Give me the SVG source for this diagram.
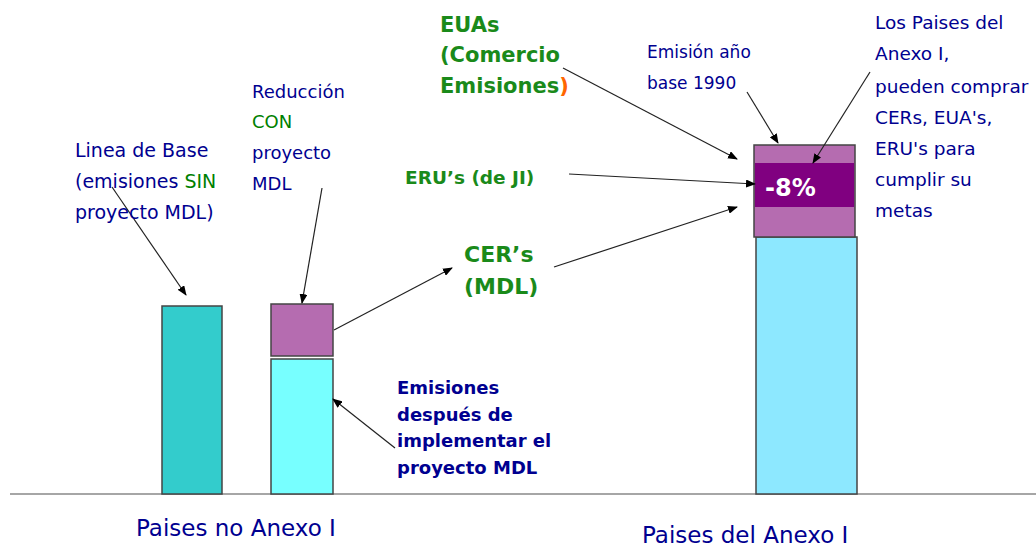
<svg xmlns="http://www.w3.org/2000/svg" width="1036" height="550" viewBox="0 0 1036 550">
<defs>
<marker id="ah" markerWidth="10" markerHeight="8" refX="9" refY="4" orient="auto" markerUnits="userSpaceOnUse">
<path d="M0,0 L10,4 L0,8 Z" fill="#000"/>
</marker>
<style>
.c{font-family:"DejaVu Sans","Liberation Sans",sans-serif;font-size:17px;fill:#000090}
.b{font-family:"DejaVu Sans","Liberation Sans",sans-serif;font-weight:bold;fill:#000090;font-size:18px}
.g{fill:#008000}
.gb{font-family:"DejaVu Sans","Liberation Sans",sans-serif;font-weight:bold;fill:#1a8a1a}
.ln{stroke:#222;stroke-width:1.2;fill:none;marker-end:url(#ah)}
.bar{stroke:#444;stroke-width:1.5}
</style>
</defs>
<rect width="1036" height="550" fill="#fff"/>
<line x1="10" y1="494" x2="1036" y2="494" stroke="#888" stroke-width="1.5"/>

<g id="bar-base"><rect class="bar" x="162" y="306" width="60" height="188" fill="#33CCCC"/></g>
<g id="bar-reduccion"><rect class="bar" x="271" y="304" width="62" height="52" fill="#B56CB0"/></g>
<g id="bar-emisiones"><rect class="bar" x="271" y="359" width="62" height="135" fill="#77FFFF"/></g>
<g id="bar-anexo">
<rect class="bar" x="756" y="237" width="101" height="257" fill="#8DE8FF"/>
<rect class="bar" x="754" y="145" width="101" height="92" fill="#B56CB0"/>
<rect x="755" y="163" width="99" height="44" fill="#800080"/>
<text x="765" y="196" font-family="DejaVu Sans,Liberation Sans,sans-serif" font-weight="bold" font-size="24" fill="#fff">-8%</text>
</g>

<g id="connectors">
<line class="ln" x1="112" y1="187" x2="186" y2="295"/>
<line class="ln" x1="322" y1="188" x2="302" y2="303"/>
<line class="ln" x1="334" y1="330" x2="452" y2="268"/>
<line class="ln" x1="554" y1="267" x2="737" y2="207"/>
<line class="ln" x1="569" y1="174" x2="755" y2="184"/>
<line class="ln" x1="563" y1="68" x2="737" y2="159"/>
<line class="ln" x1="747" y1="92" x2="778" y2="143"/>
<line class="ln" x1="870" y1="72" x2="813" y2="163"/>
<line class="ln" x1="395" y1="448" x2="333" y2="399"/>
</g>

<g id="label-linea">
<text class="c" style="font-size:19px" x="75" y="157">Linea de Base</text>
<text class="c" style="font-size:19px" x="75" y="188">(emisiones <tspan class="g">SIN</tspan></text>
<text class="c" style="font-size:19px" x="75" y="219">proyecto MDL)</text>
</g>
<g id="label-reduccion">
<text class="c" style="font-size:18px" x="252" y="98">Reducción</text>
<text class="c g" style="font-size:18px" x="252" y="128">CON</text>
<text class="c" style="font-size:18px" x="252" y="159">proyecto</text>
<text class="c" style="font-size:18px" x="252" y="190">MDL</text>
</g>
<g id="label-euas">
<text class="gb" font-size="21" x="440" y="32">EUAs</text>
<text class="gb" font-size="21" x="440" y="62">(Comercio</text>
<text class="gb" font-size="21" x="440" y="93">Emisiones<tspan fill="#FF6600">)</tspan></text>
</g>
<g id="label-emision">
<text class="c" x="647" y="58">Emisión año</text>
<text class="c" x="647" y="89">base 1990</text>
</g>
<g id="label-los-paises">
<text class="c" style="font-size:18.5px" x="875" y="29">Los Paises del</text>
<text class="c" style="font-size:18.5px" x="875" y="60">Anexo I,</text>
<text class="c" style="font-size:18.5px" x="875" y="93">pueden comprar</text>
<text class="c" style="font-size:18.5px" x="875" y="124">CERs, EUA's,</text>
<text class="c" style="font-size:18.5px" x="875" y="155">ERU's  para</text>
<text class="c" style="font-size:18.5px" x="875" y="186">cumplir su</text>
<text class="c" style="font-size:18.5px" x="875" y="217">metas</text>
</g>
<g id="label-erus"><text class="gb" font-size="18.5" x="405" y="184">ERU’s (de JI)</text></g>
<g id="label-cers">
<text class="gb" font-size="22" x="464" y="262">CER’s</text>
<text class="gb" font-size="22" x="464" y="294">(MDL)</text>
</g>
<g id="label-emisiones-despues">
<text class="b" x="397" y="394">Emisiones</text>
<text class="b" x="397" y="421">después de</text>
<text class="b" x="397" y="447">implementar el</text>
<text class="b" x="397" y="474">proyecto MDL</text>
</g>
<g id="label-axis">
<text class="c" style="font-size:23px" x="136" y="536">Paises no Anexo I</text>
<text class="c" style="font-size:23px" x="642" y="543">Paises del Anexo I</text>
</g>
</svg>
